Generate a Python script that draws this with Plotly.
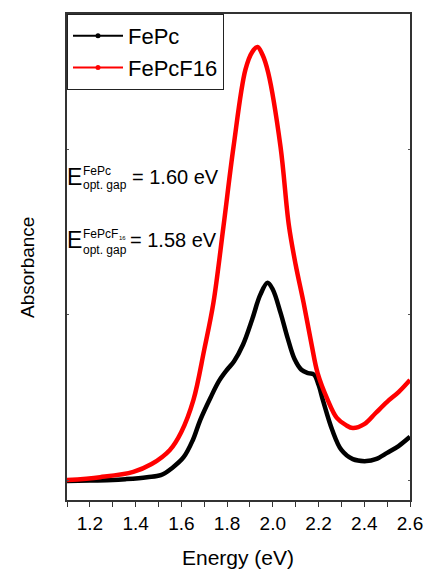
import plotly.graph_objects as go

# Energy (eV) and absorbance (arb. units)
fepc_x = [1.10, 1.20, 1.30, 1.36, 1.45, 1.51, 1.56, 1.61, 1.65, 1.683, 1.727, 1.765, 1.80,
          1.83, 1.87, 1.91, 1.945, 1.977, 2.00, 2.034, 2.065, 2.095, 2.125, 2.155, 2.18, 2.20,
          2.22, 2.26, 2.30, 2.35, 2.41, 2.45, 2.50, 2.55, 2.60]
fepc_y = [0.039, 0.040, 0.041, 0.043, 0.047, 0.051, 0.066, 0.088, 0.123, 0.165, 0.210, 0.245, 0.268,
          0.285, 0.320, 0.372, 0.422, 0.447, 0.433, 0.385, 0.333, 0.290, 0.268, 0.261, 0.258, 0.237,
          0.204, 0.144, 0.103, 0.084, 0.080, 0.084, 0.097, 0.111, 0.130]

fepcf16_x = [1.10, 1.245, 1.39, 1.47, 1.55, 1.60, 1.653, 1.70, 1.74, 1.784, 1.828, 1.88,
             1.91, 1.933, 1.955, 1.98, 2.034, 2.07, 2.10, 2.135, 2.17, 2.196, 2.24, 2.28, 2.32,
             2.35, 2.40, 2.45, 2.50, 2.55, 2.60]
fepcf16_y = [0.041, 0.047, 0.058, 0.074, 0.103, 0.140, 0.206, 0.309, 0.405, 0.562, 0.726, 0.885,
             0.922, 0.932, 0.916, 0.879, 0.726, 0.566, 0.484, 0.405, 0.319, 0.261, 0.206, 0.169, 0.154,
             0.148, 0.156, 0.179, 0.202, 0.222, 0.247]

series_names = ["FePc", "FePcF16"]
series_colors = ["#000000", "#ff0000"]

FONT = "Liberation Sans, Arial, sans-serif"

fig = go.Figure()
for name, xs, ys, col in [(series_names[0], fepc_x, fepc_y, series_colors[0]),
                          (series_names[1], fepcf16_x, fepcf16_y, series_colors[1])]:
    fig.add_trace(go.Scatter(x=xs, y=ys, mode="lines", line=dict(color=col, width=4.5, shape="spline", smoothing=1.0),
                             showlegend=False, hoverinfo="skip"))
for name, col in zip(series_names, series_colors):
    fig.add_trace(go.Scatter(x=[None], y=[None], mode="lines+markers", name=name,
                             line=dict(color=col, width=2), marker=dict(color=col, size=5)))

L, R, T, B = 67, 410, 14, 500
W, H = 426, 570
def px(x):
    return (x - L) / (R - L)
def py(y):
    return (B - y) / (B - T)

anns = []
def txt(t, x, y, size, xanchor="left", yanchor="middle", angle=0):
    anns.append(dict(text=t, x=px(x), y=py(y), xref="paper", yref="paper", showarrow=False,
                     xanchor=xanchor, yanchor=yanchor, textangle=angle,
                     font=dict(family=FONT, size=size, color="black"), borderpad=0))

# gap labels
txt("E", 66, 177, 23)
txt("FePc", 82, 171, 12)
txt("opt. gap", 82, 185, 12)
txt("= 1.60 eV", 131, 177, 20)
txt("E", 66, 240, 23)
txt("FePcF", 82, 234, 12)
txt("16", 118, 238, 6)
txt("opt. gap", 82, 250, 12)
txt("= 1.58 eV", 129, 240, 20)
# axis titles
txt("Energy (eV)", 238, 557, 21, xanchor="center")
txt("Absorbance", 27, 268, 19, xanchor="center", angle=-90)

fig.update_layout(
    width=W, height=H,
    margin=dict(l=L, r=W - R, t=T, b=H - B, autoexpand=False),
    paper_bgcolor="white", plot_bgcolor="white",
    font=dict(family=FONT, color="black"),
    annotations=anns,
    legend=dict(x=0, y=1, xanchor="left", yanchor="top", bgcolor="white",
                bordercolor="#222", borderwidth=1, font=dict(size=22, family=FONT),
                tracegroupgap=0, itemwidth=50),
    xaxis=dict(range=[1.1, 2.6], dtick=0.2, tick0=1.2, tickformat=".1f", automargin=False,
               showline=True, linecolor="#333", linewidth=1.5, mirror=True,
               ticks="outside", ticklen=5, tickcolor="#333", tickwidth=1,
               minor=dict(dtick=0.1, tick0=1.1, ticks="outside", ticklen=5, tickcolor="#333"),
               showgrid=False, zeroline=False,
               tickfont=dict(size=19, family=FONT, color="black")),
    yaxis=dict(range=[0, 1], tick0=0.041, dtick=0.34, showticklabels=False, automargin=False,
               showline=True, linecolor="#333", linewidth=1.5, mirror="ticks",
               ticks="inside", ticklen=2, tickcolor="#555",
               showgrid=False, zeroline=False),
)

fig.write_html("out.html")
